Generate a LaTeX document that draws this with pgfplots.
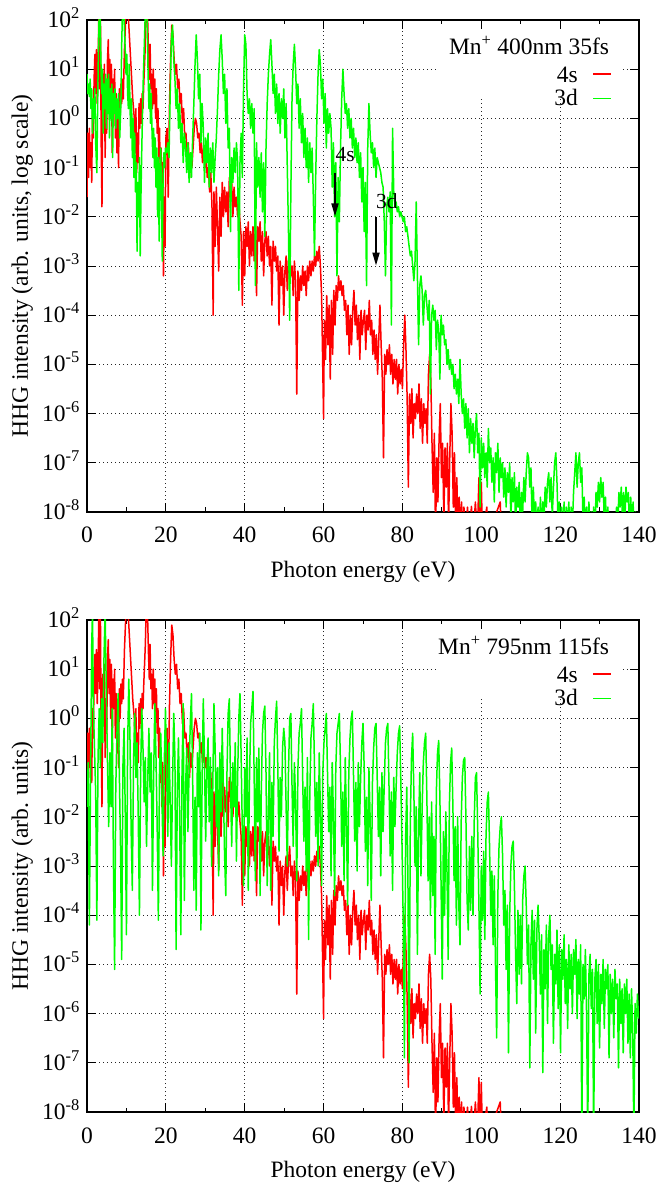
\documentclass[border=0pt]{standalone}
\usepackage{fontspec}
\setmainfont{Liberation Serif}
\usepackage{pgfplots}
\pgfplotsset{compat=1.18}
\usepackage{pgfplotstable}
\usetikzlibrary{arrows.meta}

\definecolor{gpred}{RGB}{255,0,0}
\definecolor{gpgreen}{RGB}{0,255,0}

\pgfplotstableread[row sep=\\]{
x y\\
0 2.5e-2\\ 0.2 0.5\\ 0.4 6.3e-2\\ 0.6 0.63\\ 0.8 0.1\\ 1.0 0.32\\ 1.2 5e-2\\ 1.4 1.58\\ 1.6 0.4\\ 1.8 6.3\\
2.0 20\\ 2.2 3.2\\ 2.4 25\\ 2.6 2\\ 2.8 10\\ 3.0 126\\ 3.2 4\\ 3.4 158\\ 3.6 0.32\\ 3.8 1.6e-2\\
4.0 7.9\\ 4.2 1.26\\ 4.4 12.6\\ 4.6 0.16\\ 4.8 2.5\\ 5.0 0.5\\ 5.2 15.8\\ 5.4 40\\ 5.6 3.2\\ 5.8 15.8\\
6.0 1\\ 6.2 12.6\\ 6.4 0.2\\ 6.6 6.3\\ 6.8 1.58\\ 7.0 10\\ 7.2 0.4\\ 7.4 3.2\\ 7.6 0.2\\ 7.8 2\\
8.0 0.1\\ 8.2 4\\ 8.4 1\\ 8.6 5\\ 8.8 2\\ 9.0 6.3\\ 9.2 2.5\\ 9.5 25\\ 9.8 100\\ 10.1 200\\
10.4 158\\ 10.8 40\\ 11.2 10\\ 11.6 2.5\\ 12.0 1\\ 12.2 0.2\\ 12.4 1.58\\ 12.6 7.9e-2\\ 12.8 0.5\\ 13.0 0.126\\
13.2 2\\ 13.4 0.63\\ 13.6 2.5\\ 13.8 0.79\\ 14.0 3.2\\ 14.2 1.58\\ 14.4 5\\ 14.6 12.6\\ 14.8 32\\ 15.0 158\\
15.3 200\\ 15.6 20\\ 15.8 6.3\\ 16.0 32\\ 16.2 4\\ 16.4 7.9\\ 16.6 1.58\\ 16.8 10\\ 17.0 2\\ 17.2 6.3\\
17.4 1\\ 17.6 4\\ 17.8 0.5\\ 18.0 1.58\\ 18.2 0.16\\ 18.4 0.63\\ 18.6 5e-2\\ 18.8 0.25\\ 19.0 1.6e-2\\ 19.2 0.126\\
19.4 6.3e-4\\ 19.6 2.5e-2\\ 19.8 2.5e-3\\ 20.0 0.4\\ 20.3 0.63\\ 20.6 2.5e-2\\ 20.9 1.58\\ 21.2 15.8\\ 21.5 79\\ 21.8 50\\
22.1 15.8\\ 22.4 7.9\\ 22.7 12.6\\ 23.0 4\\ 23.3 6.3\\ 23.6 2\\ 23.9 3.2\\ 24.2 0.79\\ 24.5 1.58\\ 24.8 0.4\\
25.1 0.5\\ 25.4 0.16\\ 25.7 0.32\\ 26.0 6.3e-2\\ 26.3 0.2\\ 26.6 0.1\\ 26.9 0.25\\ 27.2 0.63\\ 27.5 1\\ 27.8 0.79\\
28.1 0.4\\ 28.4 0.5\\ 28.7 0.2\\ 29.0 0.32\\ 29.3 0.126\\ 29.6 0.25\\ 29.9 0.1\\ 30.2 0.16\\ 30.5 6.3e-2\\ 30.8 0.1\\
31.1 3.2e-2\\ 31.4 7.9e-2\\ 31.7 1.6e-2\\ 32.0 1e-4\\ 32.2 3.2e-2\\ 32.5 2.5e-3\\ 32.8 4e-2\\ 33.1 6.3e-3\\ 33.4 7.9e-4\\ 33.7 2.5e-2\\
34.0 4e-3\\ 34.3 5e-2\\ 34.6 1e-2\\ 34.9 4e-2\\ 35.2 1.26e-2\\ 35.5 3.2e-2\\ 35.8 6.3e-3\\ 36.1 6.3e-2\\ 36.4 2.5e-2\\ 36.7 5e-2\\
37.0 1e-2\\ 37.3 4e-2\\ 37.6 1.6e-2\\ 37.9 2.5e-2\\ 38.2 1e-2\\ 38.5 2e-2\\ 38.8 7.9e-3\\ 39.1 4e-3\\ 39.4 1.6e-4\\ 39.7 5e-3\\
40.0 6.3e-4\\ 40.3 6.3e-3\\ 40.6 2.5e-3\\ 40.9 7.9e-3\\ 41.2 1e-3\\ 41.5 5e-3\\ 41.8 1.6e-3\\ 42.1 6.3e-3\\ 42.4 1.26e-3\\ 42.7 7.9e-3\\
43.0 2.5e-4\\ 43.3 6.3e-3\\ 43.6 3.2e-3\\ 43.9 7.9e-3\\ 44.2 1.26e-3\\ 44.5 5e-3\\ 44.8 6.3e-4\\ 45.1 3.2e-3\\ 45.4 5e-3\\ 45.7 1.6e-3\\
46.0 4e-3\\ 46.3 1e-3\\ 46.6 2.5e-3\\ 46.9 1.6e-4\\ 47.2 3.2e-3\\ 47.5 1.26e-3\\ 47.8 2.5e-3\\ 48.1 7.9e-4\\ 48.4 1.6e-3\\ 48.7 6.3e-5\\
49.0 1.26e-3\\ 49.3 4e-4\\ 49.6 1e-3\\ 49.9 1e-4\\ 50.2 7.9e-4\\ 50.5 1.6e-3\\ 50.8 3.2e-4\\ 51.1 1.26e-3\\ 51.4 2.5e-3\\ 51.7 6.3e-4\\
52.0 1e-3\\ 52.3 2.5e-4\\ 52.6 1.26e-3\\ 52.9 5e-4\\ 53.2 2.5e-6\\ 53.5 7.9e-4\\ 53.8 2e-4\\ 54.1 6.3e-4\\ 54.4 3.2e-4\\ 54.7 1e-3\\
55.0 4e-4\\ 55.3 7.9e-4\\ 55.6 2.5e-4\\ 55.9 1e-3\\ 56.2 5e-4\\ 56.5 1.26e-3\\ 56.8 6.3e-4\\ 57.1 1.26e-3\\ 57.4 7.9e-4\\ 57.7 1.6e-3\\
58.0 1e-3\\ 58.3 2e-3\\ 58.6 1.26e-3\\ 58.9 2.5e-3\\ 59.2 1e-3\\ 59.5 2.5e-4\\ 59.8 7.9e-6\\ 60.0 7.9e-7\\ 60.2 7.9e-5\\ 60.5 1.26e-5\\
60.8 2.5e-4\\ 61.1 2.5e-5\\ 61.4 1.6e-4\\ 61.7 5e-6\\ 62.0 2e-4\\ 62.3 1.6e-5\\ 62.6 3.2e-4\\ 62.9 6.3e-5\\ 63.2 4e-4\\ 63.5 2e-4\\
63.8 6.3e-4\\ 64.1 3.2e-4\\ 64.4 5e-4\\ 64.7 2.5e-4\\ 65.0 4e-4\\ 65.3 1.26e-4\\ 65.6 2e-4\\ 65.9 4e-5\\ 66.2 1.6e-4\\ 66.5 1.6e-5\\
66.8 1e-4\\ 67.1 2.5e-5\\ 67.4 1.26e-4\\ 67.7 3.2e-4\\ 68.0 6.3e-5\\ 68.3 1.6e-4\\ 68.6 3.2e-5\\ 68.9 1e-4\\ 69.2 1.26e-5\\ 69.5 1.26e-4\\
69.8 4e-5\\ 70.1 7.9e-5\\ 70.4 1.26e-4\\ 70.7 2e-5\\ 71.0 1e-4\\ 71.3 5e-5\\ 71.6 2e-4\\ 71.9 4e-5\\ 72.2 7.9e-5\\ 72.5 1.6e-5\\
72.8 5e-5\\ 73.1 1.26e-5\\ 73.4 4e-5\\ 73.7 6.3e-6\\ 74.0 3.2e-5\\ 74.3 1.6e-4\\ 74.6 2.5e-5\\ 74.9 5e-6\\ 75.2 1.26e-7\\ 75.5 1.6e-5\\
75.8 6.3e-6\\ 76.1 2e-5\\ 76.4 1e-5\\ 76.7 2.5e-5\\ 77.0 6.3e-6\\ 77.3 1.6e-5\\ 77.6 4e-6\\ 77.9 1.26e-5\\ 78.2 5e-6\\ 78.5 1.26e-5\\
78.8 2.5e-6\\ 79.1 1e-5\\ 79.4 4e-6\\ 79.7 7.9e-6\\ 80.0 3.2e-6\\ 80.3 2.5e-5\\ 80.6 1e-4\\ 80.9 2e-5\\ 81.2 2e-6\\ 81.5 3.2e-8\\
81.8 2.5e-6\\ 82.1 6.3e-7\\ 82.4 3.2e-6\\ 82.7 3.2e-7\\ 83.0 1.6e-6\\ 83.3 7.9e-7\\ 83.6 2.5e-6\\ 83.9 1e-6\\ 84.2 4e-6\\ 84.5 5e-7\\
84.8 2e-6\\ 85.1 2.5e-7\\ 85.4 1.6e-6\\ 85.7 6.3e-7\\ 86.0 1.26e-6\\ 86.3 2.5e-7\\ 86.6 6.3e-6\\ 86.9 1.6e-5\\ 87.2 5e-6\\ 87.5 2.5e-7\\
87.8 2.5e-8\\ 88.1 4e-7\\ 88.4 3.2e-9\\ 88.7 1.26e-7\\ 89.0 1.6e-8\\ 89.3 3.2e-7\\ 89.6 1.6e-6\\ 89.9 5e-8\\ 90.2 2.5e-7\\ 90.5 6.3e-9\\
90.8 2e-7\\ 91.1 3.2e-8\\ 91.4 2.5e-7\\ 91.7 5e-9\\ 92.0 1.26e-7\\ 92.3 1.6e-6\\ 92.6 4e-7\\ 92.9 1.26e-8\\ 93.2 1.6e-7\\ 93.5 3.2e-9\\
93.8 5e-8\\ 94.1 3.2e-9\\ 94.4 2e-8\\ 94.7 3.2e-9\\ 95.0 1.6e-8\\ 95.3 3.2e-9\\ 95.6 1.26e-8\\ 96.0 3.2e-9\\ 96.5 1.26e-8\\ 97.0 3.2e-9\\
97.5 1.3e-8\\ 98.0 3.2e-9\\ 98.5 1.6e-8\\ 99.0 3.2e-9\\ 99.4 5e-8\\ 99.7 3.2e-9\\ 100.0 4e-8\\ 100.3 3.2e-9\\ 101.4 1.26e-8\\ 101.7 3.2e-9\\
104.8 1.6e-8\\ 105.1 3.2e-9\\
}\redtab

\pgfplotstableread[row sep=\\]{
x y\\
0 7.9\\ 0.2 3.2\\ 0.4 5\\ 0.6 2.8\\ 0.8 6.3\\ 1.0 1.58\\ 1.2 4\\ 1.4 0.5\\ 1.6 2.5\\ 1.8 1\\
2.0 4\\ 2.2 0.32\\ 2.5 7.9e-2\\ 2.7 2\\ 2.9 25\\ 3.1 158\\ 3.3 158\\ 3.5 20\\ 3.7 3.2\\ 3.9 10\\
4.1 0.5\\ 4.3 5\\ 4.5 1.58\\ 4.7 7.9\\ 4.9 0.63\\ 5.1 6.3\\ 5.3 1.26\\ 5.5 7.9\\ 5.7 0.4\\ 5.9 4\\
6.1 1\\ 6.3 5\\ 6.5 0.16\\ 6.7 3.2\\ 6.9 1.26\\ 7.1 4\\ 7.3 0.63\\ 7.5 2.5\\ 7.7 1\\ 8.0 3.2\\
8.3 0.4\\ 8.6 2\\ 8.8 32\\ 9.0 158\\ 9.3 158\\ 9.6 40\\ 9.9 7.9\\ 10.1 20\\ 10.3 3.2\\ 10.5 1.58\\
10.7 12.6\\ 10.9 2\\ 11.1 0.4\\ 11.3 2.5\\ 11.5 0.16\\ 11.7 1\\ 11.9 6.3e-2\\ 12.1 0.5\\ 12.3 3.2e-2\\ 12.5 0.126\\
12.7 2e-3\\ 12.9 5e-2\\ 13.1 1e-2\\ 13.3 0.16\\ 13.5 1.6e-3\\ 13.7 3.2e-2\\ 13.9 0.25\\ 14.1 1.58\\ 14.3 7.9\\ 14.5 25\\
14.8 158\\ 15.1 200\\ 15.3 63\\ 15.5 7.9\\ 15.7 1.58\\ 15.9 5\\ 16.1 0.79\\ 16.3 3.2\\ 16.5 0.5\\ 16.7 0.16\\
16.9 0.63\\ 17.1 0.1\\ 17.3 0.4\\ 17.5 4e-2\\ 17.7 0.25\\ 17.9 1e-2\\ 18.1 0.16\\ 18.3 3.2e-3\\ 18.5 7.9e-2\\ 18.7 0.25\\
18.9 2e-2\\ 19.1 1.26e-3\\ 19.3 6.3e-2\\ 19.5 0.2\\ 19.7 0.1\\ 19.9 0.25\\ 20.2 0.2\\ 20.5 0.32\\ 20.8 0.16\\ 21.1 3.2\\
21.4 40\\ 21.7 79\\ 22.0 15.8\\ 22.3 6.3\\ 22.6 1.58\\ 22.9 4\\ 23.2 0.63\\ 23.5 2\\ 23.8 0.32\\ 24.1 0.79\\
24.4 0.126\\ 24.7 0.5\\ 25.0 0.25\\ 25.3 7.9e-2\\ 25.6 0.32\\ 25.9 5e-2\\ 26.2 0.2\\ 26.5 6.3e-2\\ 26.8 0.4\\ 27.1 2\\
27.4 12.6\\ 27.7 50\\ 28.0 15.8\\ 28.3 2.5\\ 28.6 7.9\\ 28.9 0.32\\ 29.2 2\\ 29.5 0.63\\ 29.8 5e-2\\ 30.1 0.4\\
30.4 0.126\\ 30.7 0.5\\ 31.0 4e-2\\ 31.3 0.25\\ 31.6 7.9e-2\\ 31.9 0.32\\ 32.2 5e-2\\ 32.5 0.16\\ 32.8 0.4\\ 33.1 1.58\\
33.4 7.9\\ 33.7 25\\ 34.0 50\\ 34.3 15.8\\ 34.6 3.2\\ 34.9 7.9\\ 35.2 0.79\\ 35.5 4\\ 35.8 0.25\\ 36.1 0.63\\
36.4 5e-3\\ 36.7 0.16\\ 37.0 5e-2\\ 37.3 0.25\\ 37.6 7.9e-2\\ 37.9 0.32\\ 38.2 0.126\\ 38.5 3.2e-4\\ 38.8 0.126\\ 39.1 0.5\\
39.4 6.3e-2\\ 39.7 4\\ 40.0 50\\ 40.3 32\\ 40.6 3.2\\ 40.9 1.26\\ 41.2 2.5\\ 41.5 0.63\\ 41.8 2\\ 42.1 0.5\\
42.4 1.58\\ 42.7 4e-4\\ 43.0 0.32\\ 43.3 4e-2\\ 43.6 0.16\\ 43.9 2.5e-2\\ 44.2 0.2\\ 44.5 1.26e-2\\ 44.8 0.126\\ 45.1 4e-3\\
45.4 0.25\\ 45.7 2\\ 46.0 7.9\\ 46.3 20\\ 46.6 40\\ 46.9 12.6\\ 47.2 3.2\\ 47.5 7.9\\ 47.8 1.26\\ 48.1 5\\
48.4 0.79\\ 48.7 3.2\\ 49.0 0.5\\ 49.3 2.5\\ 49.6 1\\ 49.9 4\\ 50.2 0.4\\ 50.5 2\\ 50.8 0.1\\ 51.1 5e-3\\
51.4 7.9e-5\\ 51.7 3.2e-2\\ 52.0 2.5\\ 52.3 12.6\\ 52.6 32\\ 52.9 10\\ 53.2 2\\ 53.5 5\\ 53.8 0.63\\ 54.1 2.5\\
54.4 0.32\\ 54.7 1.26\\ 55.0 0.16\\ 55.3 0.63\\ 55.6 0.1\\ 55.9 0.4\\ 56.2 5e-2\\ 56.5 0.32\\ 56.8 7.9e-2\\ 57.1 0.25\\
57.4 2.5e-2\\ 57.7 1.6e-3\\ 58.0 6.3e-2\\ 58.3 1\\ 58.6 7.9\\ 58.9 25\\ 59.2 12.6\\ 59.5 2.5\\ 59.8 6.3\\ 60.1 0.79\\
60.4 3.2\\ 60.7 0.25\\ 61.0 1.58\\ 61.3 0.5\\ 61.6 1.26\\ 61.9 0.63\\ 62.2 4e-2\\ 62.5 0.32\\ 62.8 1e-2\\ 63.1 0.126\\
63.4 6.3e-4\\ 63.7 6.3e-2\\ 64.0 7.9e-3\\ 64.3 0.25\\ 64.6 2.5\\ 64.9 10\\ 65.2 3.2\\ 65.5 1.26\\ 65.8 2\\ 66.1 0.63\\
66.4 1.58\\ 66.7 0.4\\ 67.0 1\\ 67.3 0.25\\ 67.6 0.63\\ 67.9 0.16\\ 68.2 0.4\\ 68.5 0.126\\ 68.8 0.32\\ 69.1 6.3e-2\\
69.4 0.2\\ 69.7 2e-2\\ 70.0 0.1\\ 70.3 5e-3\\ 70.6 5e-2\\ 70.9 4e-4\\ 71.2 0.25\\ 71.5 2\\ 71.8 0.5\\ 72.1 0.2\\
72.4 0.32\\ 72.7 0.1\\ 73.0 0.25\\ 73.3 6.3e-2\\ 73.6 0.16\\ 73.9 0.126\\ 74.2 0.1\\ 74.5 7.9e-2\\ 74.8 5e-2\\ 75.1 4e-2\\
75.4 7.9e-3\\ 75.7 6.3e-4\\ 76.0 1.6e-2\\ 76.3 2.5e-2\\ 76.6 1.26e-2\\ 76.9 3.2e-2\\ 77.2 6.3e-5\\ 77.5 0.63\\ 77.8 3.2e-2\\ 78.1 1.6e-2\\
78.4 2e-2\\ 78.7 1.26e-2\\ 79.0 1.6e-2\\ 79.3 1e-2\\ 79.6 1.26e-2\\ 79.9 1e-2\\ 80.2 7.9e-3\\ 80.5 1e-2\\ 80.8 5e-3\\ 81.1 6.3e-3\\
81.4 4e-3\\ 81.7 2.5e-3\\ 82.0 1.6e-3\\ 82.3 2e-3\\ 82.6 1e-3\\ 82.9 5e-4\\ 83.2 1.26e-3\\ 83.5 2e-2\\ 83.8 6.3e-4\\ 84.1 2.5e-5\\
84.4 4e-4\\ 84.7 6.3e-4\\ 85.0 3.2e-4\\ 85.3 6.3e-5\\ 85.6 2.5e-4\\ 85.9 3.2e-4\\ 86.2 1.6e-4\\ 86.5 7.9e-5\\ 86.8 2e-4\\ 87.1 2.5e-6\\
87.4 1e-4\\ 87.7 1.6e-4\\ 88.0 7.9e-5\\ 88.3 1.26e-4\\ 88.6 2e-5\\ 88.9 7.9e-5\\ 89.2 5e-5\\ 89.5 5e-6\\ 89.8 1e-4\\ 90.1 4e-5\\
90.4 6.3e-5\\ 90.7 2.5e-5\\ 91.0 3.2e-5\\ 91.3 1e-5\\ 91.6 2e-5\\ 91.9 7.9e-6\\ 92.2 1.26e-5\\ 92.5 6.3e-6\\ 92.8 1e-5\\ 93.1 3.2e-6\\
93.4 6.3e-6\\ 93.7 2.5e-6\\ 94.0 5e-6\\ 94.3 1.6e-6\\ 94.6 1.26e-5\\ 94.9 2.5e-6\\ 95.2 1e-6\\ 95.5 2e-6\\ 95.8 5e-7\\ 96.1 1.6e-6\\
96.4 3.2e-7\\ 96.7 1.26e-6\\ 97.0 1.6e-7\\ 97.3 7.9e-7\\ 97.6 2.5e-7\\ 97.9 6.3e-7\\ 98.2 1.26e-7\\ 98.5 5e-7\\ 98.8 1e-6\\ 99.1 1.6e-7\\
99.4 4e-7\\ 99.7 1.26e-8\\ 100.0 3.2e-7\\ 100.3 7.9e-8\\ 100.6 2.5e-7\\ 100.9 5e-8\\ 101.2 1.6e-7\\ 101.5 3.2e-8\\ 101.8 5e-7\\ 102.1 1e-7\\
102.4 2e-7\\ 102.7 4e-8\\ 103.0 1.26e-7\\ 103.3 1.6e-8\\ 103.6 1.6e-7\\ 103.9 6.3e-8\\ 104.2 2.5e-7\\ 104.5 2.5e-8\\ 104.8 1.26e-7\\ 105.1 5e-8\\
105.4 1e-7\\ 105.7 2e-8\\ 106.0 7.9e-8\\ 106.3 1.26e-8\\ 106.6 6.3e-8\\ 106.9 2.5e-8\\ 107.2 1e-7\\ 107.5 6.3e-9\\ 107.8 5e-8\\ 108.1 1.6e-8\\
108.4 6.3e-8\\ 108.7 5e-9\\ 109.0 3.2e-8\\ 109.3 1.26e-8\\ 109.6 4e-8\\ 109.9 4e-9\\ 110.2 2.5e-8\\ 110.5 1e-8\\ 110.8 5e-8\\ 111.1 1.6e-8\\
111.4 6.3e-8\\ 111.7 1.6e-7\\ 112.0 1.26e-7\\ 112.3 3.2e-8\\ 112.6 7.9e-8\\ 112.9 5e-9\\ 113.2 3.2e-8\\ 113.5 6.3e-9\\ 113.8 1.6e-8\\ 114.1 3.2e-9\\
114.4 1.26e-8\\ 114.7 4e-9\\ 115.0 2e-8\\ 115.3 3.2e-9\\ 115.6 1.6e-8\\ 115.9 6.3e-9\\ 116.2 3.2e-8\\ 116.5 1.26e-8\\ 116.8 4e-8\\ 117.1 6.3e-8\\
117.4 1.6e-8\\ 117.7 5e-8\\ 118.0 7.9e-9\\ 118.3 3.2e-8\\ 118.6 1e-7\\ 118.9 1.6e-7\\ 119.2 4e-8\\ 119.5 5e-9\\ 119.8 1.6e-8\\ 120.1 3.2e-9\\
120.4 1.26e-8\\ 120.7 3.2e-9\\ 121.0 1.6e-8\\ 121.3 3.2e-9\\ 121.6 1.26e-8\\ 121.9 4e-9\\ 122.2 1.6e-8\\ 122.5 3.2e-9\\ 122.8 1.26e-8\\ 123.1 5e-9\\
123.4 2.5e-8\\ 123.7 6.3e-8\\ 124.0 1.6e-7\\ 124.3 3.2e-8\\ 124.6 1e-7\\ 124.9 1.6e-7\\ 125.2 4e-8\\ 125.5 7.9e-8\\ 125.8 6.3e-9\\ 126.1 2e-8\\
126.4 3.2e-9\\ 126.7 1.26e-8\\ 127.0 4e-9\\ 127.3 1.6e-8\\ 127.6 3.2e-9\\ 127.9 1e-8\\ 128.2 3.2e-9\\ 128.5 1.26e-8\\ 128.8 3.2e-9\\ 129.1 2.5e-8\\
129.4 1.26e-8\\ 129.7 4e-8\\ 130.0 1.6e-8\\ 130.3 5e-8\\ 130.6 2e-8\\ 130.9 4e-8\\ 131.2 6.3e-9\\ 131.5 2e-8\\ 131.8 3.2e-9\\ 132.1 1.26e-8\\
132.4 3.2e-9\\ 132.7 7.9e-9\\ 133.0 3.2e-9\\ 134.0 3.2e-9\\ 134.3 1.26e-8\\ 134.6 5e-9\\ 134.9 2.5e-8\\ 135.2 1.26e-8\\ 135.5 3.2e-8\\ 135.8 7.9e-9\\
136.1 2.5e-8\\ 136.4 6.3e-9\\ 136.7 3.2e-8\\ 137.0 1.6e-8\\ 137.3 2.5e-8\\ 137.6 4e-9\\ 137.9 2e-8\\ 138.2 5e-9\\ 138.5 1.6e-8\\ 138.8 3.2e-9\\
139.1 1e-8\\ 139.4 3.2e-9\\ 139.7 7.9e-9\\ 140.0 3.2e-9\\
}\greenA

\pgfplotstableread[row sep=\\]{
x y\\
0 1.6e-2\\ 0.3 0.126\\ 0.6 6.3e-5\\ 0.9 6.3e-2\\ 1.2 32\\ 1.4 158\\ 1.6 2\\ 1.9 0.25\\ 2.2 3.2e-2\\ 2.5 7.9e-5\\
2.8 0.16\\ 3.1 1.58\\ 3.4 0.1\\ 3.7 2.5\\ 4.0 0.32\\ 4.3 15.8\\ 4.6 158\\ 4.9 3.2\\ 5.2 0.126\\ 5.5 6.3e-3\\
5.8 0.2\\ 6.1 1.6e-2\\ 6.4 1.58\\ 6.7 1.26e-3\\ 7.0 7.9e-6\\ 7.3 4e-2\\ 7.6 0.5\\ 7.9 3.2\\ 8.2 7.9e-2\\ 8.5 2.5e-3\\
8.8 1.26e-5\\ 9.1 0.1\\ 9.4 0.63\\ 9.7 1.26e-2\\ 10.0 4e-5\\ 10.3 0.25\\ 10.6 6.3\\ 10.9 0.4\\ 11.2 5e-3\\ 11.5 3.2e-4\\
11.8 0.126\\ 12.1 1.26\\ 12.4 6.3e-2\\ 12.7 0.32\\ 13.0 1e-2\\ 13.3 1e-4\\ 13.6 7.9e-2\\ 13.9 1.58\\ 14.2 0.25\\ 14.5 2e-2\\
14.8 0.16\\ 15.1 2.5e-3\\ 15.4 5e-2\\ 15.7 0.63\\ 16.0 3.2e-2\\ 16.3 0.2\\ 16.6 3.2e-4\\ 16.9 6.3e-2\\ 17.2 2\\ 17.5 0.16\\
17.8 6.3e-3\\ 18.1 7.9e-5\\ 18.4 0.1\\ 18.7 0.5\\ 19.0 2.5e-2\\ 19.3 1.6e-3\\ 19.6 0.126\\ 19.9 1.58\\ 20.2 7.9e-2\\ 20.5 4e-3\\
20.8 0.32\\ 21.1 2e-2\\ 21.4 1e-3\\ 21.7 5e-2\\ 22.0 1.26\\ 22.3 0.16\\ 22.6 2e-5\\ 22.9 3.2e-2\\ 23.2 0.4\\ 23.5 1e-2\\
23.8 4e-5\\ 24.1 7.9e-2\\ 24.4 2\\ 24.7 2e-4\\ 25.0 4e-2\\ 25.3 0.25\\ 25.6 5e-3\\ 25.9 0.1\\ 26.2 0.79\\ 26.5 3.2\\
26.8 6.3e-2\\ 27.1 3.2e-4\\ 27.4 2.5e-2\\ 27.7 1.26e-4\\ 28.0 0.2\\ 28.3 1.6e-2\\ 28.6 0.5\\ 28.9 5e-5\\ 29.2 6.3e-2\\ 29.5 2.5\\
29.8 0.126\\ 30.1 3.2e-3\\ 30.4 7.9e-2\\ 30.7 0.4\\ 31.0 7.9e-3\\ 31.3 0.16\\ 31.6 1e-3\\ 31.9 4e-2\\ 32.2 2\\ 32.5 0.25\\
32.8 6.3e-3\\ 33.1 0.1\\ 33.4 6.3e-4\\ 33.7 0.2\\ 34.0 1.26e-2\\ 34.3 0.63\\ 34.6 3.2e-2\\ 34.9 1.6e-3\\ 35.2 2.5e-4\\ 35.5 7.9e-2\\
35.8 1.26\\ 36.1 2.5\\ 36.4 5e-2\\ 36.7 2.5e-3\\ 37.0 0.126\\ 37.3 1.6e-2\\ 37.6 0.32\\ 37.9 1.26e-3\\ 38.2 6.3e-2\\ 38.5 1\\
38.8 3.2\\ 39.1 0.16\\ 39.4 5e-3\\ 39.7 4e-4\\ 40.0 0.1\\ 40.3 1e-2\\ 40.6 0.4\\ 40.9 3.2e-4\\ 41.2 5e-2\\ 41.5 0.79\\
41.8 1.58\\ 42.1 3.55\\ 42.4 6.3e-2\\ 42.7 5e-4\\ 43.0 0.16\\ 43.3 7.9e-3\\ 43.6 0.25\\ 43.9 2.5e-4\\ 44.2 3.2e-2\\ 44.5 0.5\\
44.8 1.26\\ 45.1 1.78\\ 45.4 7.9e-2\\ 45.7 4e-4\\ 46.0 1.26e-2\\ 46.3 0.2\\ 46.6 3.2e-4\\ 46.9 5e-2\\ 47.2 4e-3\\ 47.5 0.32\\
47.8 1\\ 48.1 2.24\\ 48.4 0.1\\ 48.7 2e-3\\ 49.0 6.3e-2\\ 49.3 1e-2\\ 49.6 0.25\\ 49.9 0.63\\ 50.2 0.32\\ 50.5 1.6e-2\\
50.8 1e-3\\ 51.1 7.9e-2\\ 51.4 1\\ 51.7 1.26\\ 52.0 4e-2\\ 52.3 2.5e-3\\ 52.6 0.126\\ 52.9 2e-2\\ 53.2 5e-4\\ 53.5 0.1\\
53.8 0.5\\ 54.1 0.79\\ 54.4 1.58\\ 54.7 6.3e-2\\ 55.0 3.2e-3\\ 55.3 4e-2\\ 55.6 7.9e-4\\ 55.9 0.16\\ 56.2 3.2e-5\\ 56.5 2.5e-2\\
56.8 0.4\\ 57.1 0.79\\ 57.4 2\\ 57.7 0.1\\ 58.0 4e-3\\ 58.3 5e-2\\ 58.6 1e-3\\ 58.9 0.2\\ 59.2 1.26e-2\\ 59.5 4e-4\\
59.8 7.9e-2\\ 60.1 0.32\\ 60.4 0.63\\ 60.7 1.26\\ 61.0 7.9e-2\\ 61.3 5e-3\\ 61.6 4e-2\\ 61.9 6.3e-4\\ 62.2 0.126\\ 62.5 1e-2\\
62.8 2.5e-4\\ 63.1 0.1\\ 63.4 0.5\\ 63.7 0.79\\ 64.0 1.26\\ 64.3 0.1\\ 64.6 2.5e-3\\ 64.9 3.2e-2\\ 65.2 5e-4\\ 65.5 0.16\\
65.8 7.9e-3\\ 66.1 1.6e-4\\ 66.4 7.9e-2\\ 66.7 0.4\\ 67.0 1\\ 67.3 1.41\\ 67.6 6.3e-2\\ 67.9 3.2e-3\\ 68.2 5e-2\\ 68.5 7.9e-4\\
68.8 0.126\\ 69.1 6.3e-3\\ 69.4 6.3e-2\\ 69.7 0.32\\ 70.0 0.79\\ 70.3 0.1\\ 70.6 2e-3\\ 70.9 2.5e-2\\ 71.2 4e-4\\ 71.5 0.1\\
71.8 1e-2\\ 72.1 2e-4\\ 72.4 5e-2\\ 72.7 0.25\\ 73.0 0.63\\ 73.3 0.79\\ 73.6 6.3e-2\\ 73.9 4e-3\\ 74.2 4e-2\\ 74.5 6.3e-4\\
74.8 7.9e-2\\ 75.1 5e-3\\ 75.4 5e-2\\ 75.7 0.32\\ 76.0 0.63\\ 76.3 0.79\\ 76.6 4e-2\\ 76.9 1.6e-3\\ 77.2 3.2e-2\\ 77.5 3.2e-4\\
77.8 6.3e-2\\ 78.1 6.3e-3\\ 78.4 4e-2\\ 78.7 0.2\\ 79.0 0.5\\ 79.3 0.71\\ 79.6 5e-2\\ 79.9 2.5e-3\\ 80.2 7.9e-5\\ 80.5 1.26e-7\\
80.8 3.2e-3\\ 81.1 4e-2\\ 81.4 5e-4\\ 81.7 1e-7\\ 82.0 7.9e-3\\ 82.3 0.16\\ 82.6 0.5\\ 82.9 3.2e-2\\ 83.2 1e-3\\ 83.5 1.6e-2\\
83.8 1.6e-5\\ 84.1 6.3e-3\\ 84.4 7.9e-2\\ 84.7 6.3e-4\\ 85.0 1.6e-2\\ 85.3 0.126\\ 85.6 0.32\\ 85.9 0.5\\ 86.2 2.5e-2\\ 86.5 5e-4\\
86.8 1e-2\\ 87.1 1e-4\\ 87.4 2e-2\\ 87.7 2.5e-4\\ 88.0 4e-3\\ 88.3 1.6e-5\\ 88.6 3.2e-2\\ 88.9 0.2\\ 89.2 0.355\\ 89.5 2.5e-2\\
89.8 4e-4\\ 90.1 5e-6\\ 90.4 5e-3\\ 90.7 1e-4\\ 91.0 1.26e-2\\ 91.3 7.9e-4\\ 91.6 1.26e-5\\ 91.9 1.6e-2\\ 92.2 0.126\\ 92.5 0.25\\
92.8 1.6e-2\\ 93.1 5e-4\\ 93.4 6.3e-3\\ 93.7 6.3e-5\\ 94.0 1e-2\\ 94.3 1.6e-4\\ 94.6 2.5e-5\\ 94.9 7.9e-3\\ 95.2 6.3e-2\\ 95.5 0.141\\
95.8 0.16\\ 96.1 1e-2\\ 96.4 2e-4\\ 96.7 5e-5\\ 97.0 2.5e-3\\ 97.3 1.26e-4\\ 97.6 4e-3\\ 97.9 1e-4\\ 98.2 7.9e-3\\ 98.5 6.3e-2\\
98.8 7.9e-2\\ 99.1 5e-3\\ 99.4 1.6e-4\\ 99.7 2.5e-6\\ 100.0 1e-3\\ 100.3 7.9e-5\\ 100.6 2e-3\\ 100.9 3.2e-5\\ 101.2 4e-3\\ 101.5 2e-2\\
101.8 3.2e-2\\ 102.1 2.5e-3\\ 102.4 1e-4\\ 102.7 7.9e-4\\ 103.0 2.5e-5\\ 103.3 6.3e-4\\ 103.6 1e-5\\ 103.9 3.2e-7\\ 104.2 2.5e-4\\ 104.5 2.5e-3\\
104.8 6.3e-3\\ 105.1 1e-2\\ 105.4 1.6e-3\\ 105.7 6.3e-5\\ 106.0 3.2e-4\\ 106.3 7.9e-6\\ 106.6 1.6e-4\\ 106.9 1.6e-7\\ 107.2 1e-4\\ 107.5 1e-3\\
107.8 2.5e-3\\ 108.1 3.2e-3\\ 108.4 4e-4\\ 108.7 1.6e-5\\ 109.0 1.6e-6\\ 109.3 1.26e-4\\ 109.6 6.3e-6\\ 109.9 1e-4\\ 110.2 4e-6\\ 110.5 2e-4\\
110.8 6.3e-4\\ 111.1 1e-3\\ 111.4 1.6e-4\\ 111.7 1e-5\\ 112.0 6.3e-5\\ 112.3 7.9e-8\\ 112.6 2.5e-5\\ 112.9 1.26e-4\\ 113.2 5e-6\\ 113.5 7.9e-5\\
113.8 4e-7\\ 114.1 5e-5\\ 114.4 1.6e-4\\ 114.7 3.2e-5\\ 115.0 2.5e-6\\ 115.3 4e-5\\ 115.6 6.3e-8\\ 115.9 2e-5\\ 116.2 3.2e-6\\ 116.5 6.3e-5\\
116.8 6.3e-7\\ 117.1 4e-5\\ 117.4 1e-4\\ 117.7 7.9e-6\\ 118.0 2.5e-5\\ 118.3 2.5e-7\\ 118.6 1.6e-5\\ 118.9 4e-6\\ 119.2 5e-5\\ 119.5 1.26e-6\\
119.8 2.5e-5\\ 120.1 1.6e-7\\ 120.4 2e-5\\ 120.7 5e-6\\ 121.0 4e-5\\ 121.3 1.6e-6\\ 121.6 1.26e-5\\ 121.9 5e-7\\ 122.2 2.5e-5\\ 122.5 3.2e-6\\
122.8 1.6e-5\\ 123.1 1e-6\\ 123.4 2e-5\\ 123.7 6.3e-6\\ 124.0 3.2e-5\\ 124.3 7.9e-7\\ 124.6 1.26e-5\\ 124.9 2.5e-6\\ 125.2 2.5e-5\\ 125.5 3.2e-9\\
125.8 1e-5\\ 126.1 2e-6\\ 126.4 2e-5\\ 126.7 1e-6\\ 127.0 3.2e-9\\ 127.3 6.3e-6\\ 127.6 1.6e-5\\ 127.9 1.26e-6\\ 128.2 7.9e-6\\ 128.5 3.2e-9\\
128.8 5e-6\\ 129.1 1.26e-5\\ 129.4 6.3e-7\\ 129.7 1e-5\\ 130.0 2e-7\\ 130.3 6.3e-6\\ 130.6 1.6e-6\\ 130.9 1.26e-5\\ 131.2 5e-7\\ 131.5 7.9e-6\\
131.8 3.2e-6\\ 132.1 1e-5\\ 132.4 1.26e-7\\ 132.7 6.3e-6\\ 133.0 1e-6\\ 133.3 5e-6\\ 133.6 3.2e-7\\ 133.9 7.9e-6\\ 134.2 2e-6\\ 134.5 4e-6\\
134.8 7.9e-8\\ 135.1 5e-6\\ 135.4 6.3e-7\\ 135.7 3.2e-6\\ 136.0 1.6e-7\\ 136.3 4e-6\\ 136.6 1e-6\\ 136.9 5e-6\\ 137.2 2.5e-7\\ 137.5 2.5e-6\\
137.8 1.26e-7\\ 138.1 3.2e-6\\ 138.4 5e-7\\ 138.7 3.2e-9\\ 139.0 1.6e-6\\ 139.3 4e-7\\ 139.6 2.5e-6\\ 139.9 7.9e-7\\
}\greenB

\newcommand{\bigfont}{\fontsize{23.5bp}{28bp}\selectfont}
\newcommand{\annfont}{\fontsize{21.5bp}{25bp}\selectfont}

\begin{document}
\begin{tikzpicture}
\path[use as bounding box] (0,0) rectangle (661bp,1187bp);

\begin{semilogyaxis}[
  at={(87bp,675bp)}, anchor=south west,
  scale only axis, width=552bp, height=492bp,
  xmin=0, xmax=140, ymin=1e-8, ymax=1e2,
  xtick={0,20,40,60,80,100,120,140},
  xticklabels={0,20,40,60,80,100,120,140},
  minor xtick={10,30,50,70,90,110,130},
  ytick={1e-8,1e-7,1e-6,1e-5,1e-4,1e-3,1e-2,1e-1,1,10,100},
  yticklabels={10\textsuperscript{-8},10\textsuperscript{-7},10\textsuperscript{-6},10\textsuperscript{-5},10\textsuperscript{-4},10\textsuperscript{-3},10\textsuperscript{-2},10\textsuperscript{-1},10\textsuperscript{0},10\textsuperscript{1},10\textsuperscript{2}},
  yminorticks=false,
  tick align=inside, xtick pos=both, ytick pos=both,
  major tick length=9bp, minor tick length=4.5bp,
  tick style={black, line width=0.9bp},
  grid=major,
  major grid style={black!85, line width=0.8bp, dash pattern=on 1.2bp off 2.8bp},
  axis line style={black, line width=1.3bp},
  tick label style={font=\bigfont},
  label style={font=\bigfont},
  xticklabel style={anchor=base, yshift=-31bp, inner sep=0pt},
  yticklabel style={anchor=base east, yshift=-7.5bp, xshift=-7bp, inner sep=0pt},
  xlabel={Photon energy (eV)},
  xlabel style={at={(axis description cs:0.5,-0.1341)}, anchor=base, inner sep=0pt},
  ylabel={HHG intensity (arb. units, log scale)},
  ylabel style={at={(axis description cs:-0.1069,0.5)}, anchor=base, inner sep=0pt},
]
\addplot[gpred, line width=1.5bp, line join=round, no markers] table {\redtab};
\addplot[gpgreen, line width=1.5bp, line join=round, no markers] table {\greenA};
\fill[white] (rel axis cs:0.6341,0.8435) rectangle (rel axis cs:0.971,0.979);
\node[anchor=base east, inner sep=0pt, font=\bigfont] at (rel axis cs:0.946,0.929) {Mn\textsuperscript{+} 400nm 35fs};
\node[anchor=base east, inner sep=0pt, font=\bigfont] at (rel axis cs:0.8895,0.872) {4s};
\draw[gpred, line width=1.3bp] (rel axis cs:0.9167,0.890) -- (rel axis cs:0.9493,0.890);
\node[anchor=base east, inner sep=0pt, font=\bigfont] at (rel axis cs:0.8895,0.827) {3d};
\draw[gpgreen, line width=1.3bp] (rel axis cs:0.9167,0.841) -- (rel axis cs:0.9493,0.841);
\node[anchor=base west, inner sep=0pt, font=\annfont] at (axis cs:63.0,0.13) {4s};
\draw[black, line width=1.8bp, -{Triangle[length=13bp,width=7bp]}] (axis cs:62.9,0.078) -- (axis cs:62.9,0.0102);
\node[anchor=base west, inner sep=0pt, font=\annfont] at (axis cs:73.3,0.0145) {3d};
\draw[black, line width=1.8bp, -{Triangle[length=13bp,width=7bp]}] (axis cs:73.3,0.0098) -- (axis cs:73.3,0.00102);
\end{semilogyaxis}

\begin{semilogyaxis}[
  at={(87bp,75bp)}, anchor=south west,
  scale only axis, width=552bp, height=492bp,
  xmin=0, xmax=140, ymin=1e-8, ymax=1e2,
  xtick={0,20,40,60,80,100,120,140},
  xticklabels={0,20,40,60,80,100,120,140},
  minor xtick={10,30,50,70,90,110,130},
  ytick={1e-8,1e-7,1e-6,1e-5,1e-4,1e-3,1e-2,1e-1,1,10,100},
  yticklabels={10\textsuperscript{-8},10\textsuperscript{-7},10\textsuperscript{-6},10\textsuperscript{-5},10\textsuperscript{-4},10\textsuperscript{-3},10\textsuperscript{-2},10\textsuperscript{-1},10\textsuperscript{0},10\textsuperscript{1},10\textsuperscript{2}},
  yminorticks=false,
  tick align=inside, xtick pos=both, ytick pos=both,
  major tick length=9bp, minor tick length=4.5bp,
  tick style={black, line width=0.9bp},
  grid=major,
  major grid style={black!85, line width=0.8bp, dash pattern=on 1.2bp off 2.8bp},
  axis line style={black, line width=1.3bp},
  tick label style={font=\bigfont},
  label style={font=\bigfont},
  xticklabel style={anchor=base, yshift=-31bp, inner sep=0pt},
  yticklabel style={anchor=base east, yshift=-7.5bp, xshift=-7bp, inner sep=0pt},
  xlabel={Photon energy (eV)},
  xlabel style={at={(axis description cs:0.5,-0.1341)}, anchor=base, inner sep=0pt},
  ylabel={HHG intensity (arb. units)},
  ylabel style={at={(axis description cs:-0.1069,0.5)}, anchor=base, inner sep=0pt},
]
\addplot[gpred, line width=1.5bp, line join=round, no markers] table {\redtab};
\addplot[gpgreen, line width=1.5bp, line join=round, no markers] table {\greenB};
\fill[white] (rel axis cs:0.6341,0.8435) rectangle (rel axis cs:0.971,0.979);
\node[anchor=base east, inner sep=0pt, font=\bigfont] at (rel axis cs:0.946,0.929) {Mn\textsuperscript{+} 795nm 115fs};
\node[anchor=base east, inner sep=0pt, font=\bigfont] at (rel axis cs:0.8895,0.872) {4s};
\draw[gpred, line width=1.3bp] (rel axis cs:0.9167,0.890) -- (rel axis cs:0.9493,0.890);
\node[anchor=base east, inner sep=0pt, font=\bigfont] at (rel axis cs:0.8895,0.827) {3d};
\draw[gpgreen, line width=1.3bp] (rel axis cs:0.9167,0.841) -- (rel axis cs:0.9493,0.841);
\end{semilogyaxis}
\end{tikzpicture}
\end{document}
